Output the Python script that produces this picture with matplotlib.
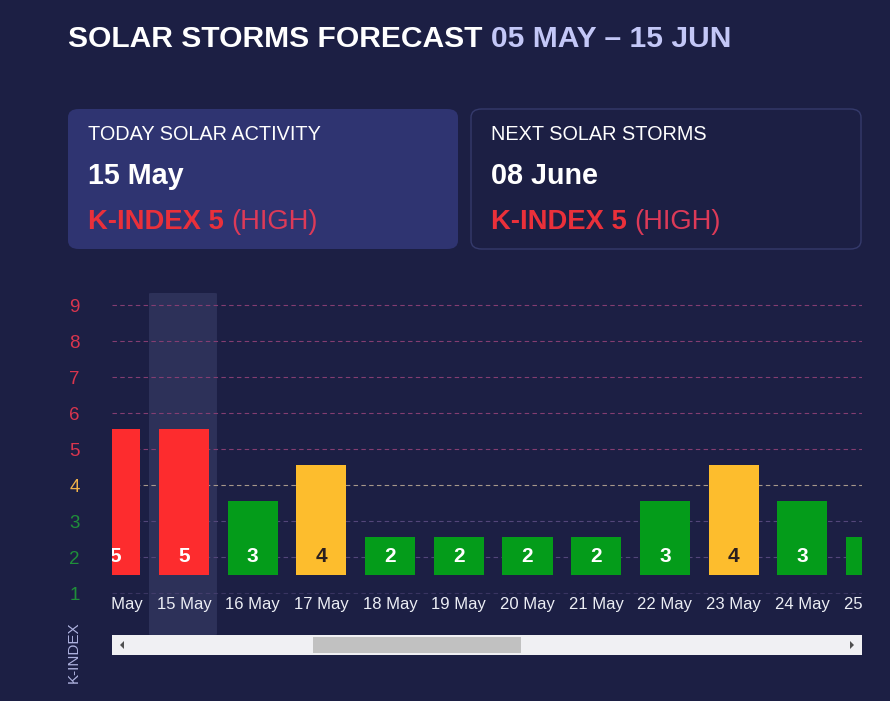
import matplotlib
matplotlib.use('Agg')
import matplotlib.pyplot as plt
from matplotlib.patches import FancyBboxPatch, Rectangle, Polygon

plt.rcParams['font.family'] = ['Liberation Sans', 'DejaVu Sans']

# Data
dates = ['14 May', '15 May', '16 May', '17 May', '18 May', '19 May',
         '20 May', '21 May', '22 May', '23 May', '24 May', '25 May']
kindex = [5, 5, 3, 4, 2, 2, 2, 2, 3, 4, 3, 2]
levels = [1, 2, 3, 4, 5, 6, 7, 8, 9]
today = '15 May'

title_main = 'SOLAR STORMS FORECAST'
title_range = '05 MAY \u2013 15 JUN'
cards = [
    ('TODAY SOLAR ACTIVITY', '15 May', 'K-INDEX 5', '(HIGH)'),
    ('NEXT SOLAR STORMS', '08 June', 'K-INDEX 5', '(HIGH)'),
]

# Colours
BG = '#1c1f44'
RED = '#fd2c2e'
YELLOW = '#fdbd2d'
GREEN = '#049c1a'


def level_color(v):
    if v >= 5:
        return RED
    if v == 4:
        return YELLOW
    return GREEN


def tick_color(v):
    if v >= 5:
        return '#d9354e'
    if v == 4:
        return '#f0b24a'
    return '#1f8f3a'


def grid_color(v):
    if v >= 5:
        return '#8a3f74'
    if v == 4:
        return '#b0a090'
    return '#57497e'


W, H = 890, 701
fig = plt.figure(figsize=(W / 100, H / 100), dpi=100, facecolor=BG)


def fx(px):
    return px / W


def fy(py):
    return 1 - py / H


# Title
t1 = fig.text(fx(68), fy(47), title_main + ' ', color='white', fontsize=21.6,
              fontweight='bold', va='baseline', ha='left')
fig.canvas.draw()
bb = t1.get_window_extent()
fig.text(bb.x1 / W, fy(47), title_range, color='#c3c7f7', fontsize=21.6,
         fontweight='bold', va='baseline', ha='left')

# Cards
for n, (head, day, kpart, level) in enumerate(cards):
    x0 = 68 + n * 403
    if n == 0:
        box = FancyBboxPatch((fx(x0), fy(249)), fx(390), 140 / H,
                             boxstyle='round,pad=0,rounding_size=0.012',
                             transform=fig.transFigure, facecolor='#2f3471',
                             edgecolor='none')
    else:
        box = FancyBboxPatch((fx(x0), fy(249)), fx(390), 140 / H,
                             boxstyle='round,pad=0,rounding_size=0.012',
                             transform=fig.transFigure, facecolor=BG,
                             edgecolor='#353a6c', linewidth=1)
    fig.patches.append(box)
    fig.text(fx(x0 + 20), fy(140), head, color='white', fontsize=14.3,
             va='baseline', ha='left')
    fig.text(fx(x0 + 20), fy(184), day, color='white', fontsize=20.7,
             fontweight='bold', va='baseline', ha='left')
    tk = fig.text(fx(x0 + 20), fy(229), kpart + ' ', color='#ea303a',
                  fontsize=19.7, fontweight='bold', va='baseline', ha='left')
    fig.canvas.draw()
    kb = tk.get_window_extent()
    fig.text(kb.x1 / W, fy(229), level, color='#dd3a58', fontsize=19.7,
             va='baseline', ha='left')

# Chart axes: pixel 593 -> level 1, 36 px per level
ax_top, ax_bot = 290, 660
y_hi = 1 + (593 - ax_top) / 36
y_lo = 1 + (593 - ax_bot) / 36
x_lo = (112 - 115.3) / 68.7
x_hi = (862 - 115.3) / 68.7
ax = fig.add_axes([fx(112), fy(ax_bot), fx(862 - 112), (ax_bot - ax_top) / H])
ax.set_facecolor('none')
ax.set_xlim(x_lo, x_hi)
ax.set_ylim(y_lo, y_hi)
for s in ax.spines.values():
    s.set_visible(False)
ax.set_xticks([])

ax.set_yticks(levels)
ax.set_yticklabels([str(v) for v in levels], fontsize=13.5, ha='center')
for lab, v in zip(ax.get_yticklabels(), levels):
    lab.set_color(tick_color(v))
ax.tick_params(axis='y', length=0, pad=27)

# Highlighted day
ti = dates.index(today)
band = FancyBboxPatch((ti - 0.51, 1 + (593 - 635) / 36), 0.99,
                      (635 - 293) / 36,
                      boxstyle='round,pad=0,rounding_size=0.04',
                      mutation_aspect=0.5, facecolor='#2d3159',
                      edgecolor='none', zorder=0)
ax.add_patch(band)

# Gridlines
for v in levels:
    ax.axhline(v, color=grid_color(v), lw=0.8, ls=(0, (4, 3)), zorder=1,
               alpha=0.95 if v > 1 else 0.5)

# Bars
xs = list(range(len(dates)))
ax.bar(xs, [v - 0.95 for v in kindex], bottom=1.5, width=0.73,
       color=[level_color(v) for v in kindex], zorder=2)

for x, v in zip(xs, kindex):
    ax.text(x, 2, str(v), ha='center', va='center', fontsize=15,
            fontweight='bold', color='#2a1f1f' if v == 4 else 'white',
            zorder=3, clip_on=True)
    ax.text(x, 1 + (593 - 605) / 36, dates[x], ha='center', va='center',
            fontsize=12, color='#eceef5', zorder=3, clip_on=True)

# Axis title
fig.text(fx(74), fy(652), 'K-INDEX', rotation=90, color='#aeb2df',
         fontsize=11, ha='center', va='center')

# Scrollbar
fig.patches.append(Rectangle((fx(112), fy(655)), fx(750), 20 / H,
                             transform=fig.transFigure, facecolor='#f0f0f3',
                             edgecolor='none', zorder=5))
fig.patches.append(Rectangle((fx(313), fy(653)), fx(208), 16 / H,
                             transform=fig.transFigure, facecolor='#c1c1c1',
                             edgecolor='none', zorder=6))
fig.patches.append(Polygon([(fx(120), fy(645)), (fx(124), fy(641)),
                            (fx(124), fy(649))], closed=True,
                           transform=fig.transFigure, facecolor='#505050',
                           edgecolor='none', zorder=6))
fig.patches.append(Polygon([(fx(854), fy(645)), (fx(850), fy(641)),
                            (fx(850), fy(649))], closed=True,
                           transform=fig.transFigure, facecolor='#505050',
                           edgecolor='none', zorder=6))

fig.savefig('out.png', dpi=100, facecolor=BG)
